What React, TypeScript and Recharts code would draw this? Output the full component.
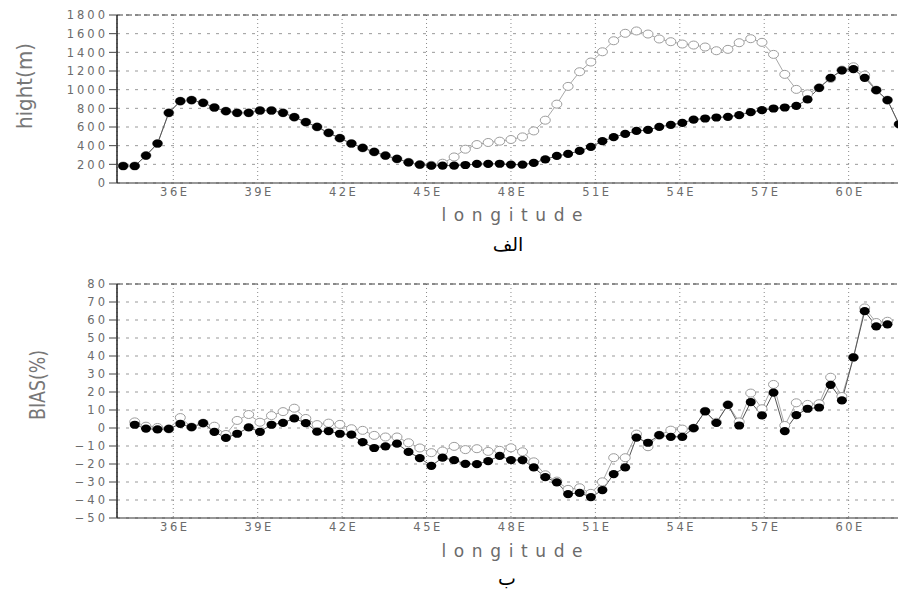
// Two-panel profile chart: terrain height and BIAS along longitude
import { LineChart, Line, XAxis, YAxis, CartesianGrid, ReferenceLine } from 'recharts'

// ============================================
// Data
// ============================================

// longitude of each station along the section
const lon = [
  34.22, 34.63, 35.03, 35.44, 35.84, 36.25, 36.65, 37.06, 37.46, 37.87,
  38.27, 38.68, 39.08, 39.49, 39.9, 40.3, 40.71, 41.11, 41.52, 41.92,
  42.33, 42.73, 43.14, 43.54, 43.95, 44.36, 44.76, 45.17, 45.57, 45.98,
  46.38, 46.79, 47.19, 47.6, 48.0, 48.41, 48.81, 49.22, 49.63, 50.03,
  50.44, 50.84, 51.25, 51.65, 52.06, 52.46, 52.87, 53.27, 53.68, 54.09,
  54.49, 54.9, 55.3, 55.71, 56.11, 56.52, 56.92, 57.33, 57.73, 58.14,
  58.54, 58.95, 59.36, 59.76, 60.17, 60.57, 60.98, 61.38, 61.79,
]

// top panel: filled (black) and open (grey) circles
const heightFilled = [
  182, 182, 294, 423, 752, 877, 888, 859, 809, 770,
  752, 752, 777, 777, 752, 705, 652, 601, 537, 480,
  423, 376, 333, 294, 258, 222, 197, 187, 187, 187,
  193, 204, 204, 206, 197, 197, 215, 254, 290, 311,
  344, 386, 448, 491, 526, 558, 569, 601, 623, 644,
  680, 691, 702, 709, 727, 759, 780, 798, 809, 827,
  895, 1020, 1127, 1207, 1221, 1127, 995, 888, 630,
]
const heightOpen = [
  182, 182, 294, 423, 752, 877, 888, 859, 809, 770,
  752, 752, 777, 777, 752, 705, 652, 601, 537, 480,
  423, 376, 333, 294, 258, 222, 197, 190, 212, 279,
  362, 412, 434, 448, 466, 494, 558, 673, 845, 1035,
  1192, 1296, 1406, 1524, 1604, 1629, 1596, 1543, 1514, 1489,
  1478, 1457, 1417, 1432, 1503, 1546, 1507, 1378, 1164, 1003,
  955, 1020, 1120, 1210, 1245, 1156, 995, 888, 630,
]

// bottom panel starts at the second station and stops one before the last
const biasFilled = [
  1.8, -0.3, -0.8, -0.5, 2.3, 0.5, 2.7, -2.1, -5.5, -3.2,
  0.3, -2.1, 1.8, 2.9, 5.3, 2.7, -2.0, -1.7, -3.2, -3.7,
  -7.9, -11.1, -10.2, -8.7, -13.3, -16.7, -21.0, -16.5, -17.9, -19.9,
  -20.1, -18.4, -15.5, -17.8, -17.8, -21.9, -27.3, -30.2, -36.7, -36.0,
  -38.4, -34.5, -25.6, -21.9, -5.3, -8.2, -4.0, -4.9, -4.9, -0.1,
  9.3, 2.8, 12.9, 1.4, 14.4, 7.0, 19.6, -1.7, 7.2, 10.7,
  11.4, 24.0, 15.3, 39.2, 64.9, 56.5, 57.6,
]
const biasOpen = [
  3.4, 1.0, 0.3, -0.5, 5.8, 0.5, 2.7, 1.0, -3.6, 4.2,
  7.5, 3.2, 6.9, 9.1, 11.0, 5.3, 1.9, 2.7, 2.0, -0.4,
  -1.3, -4.1, -5.0, -5.0, -8.2, -11.1, -13.7, -12.8, -10.2, -12.0,
  -11.5, -13.0, -12.4, -11.0, -13.2, -18.8, -26.0, -29.5, -34.1, -33.2,
  -36.3, -29.9, -16.5, -16.5, -3.4, -10.4, -4.0, -1.2, -0.6, -0.1,
  9.3, 3.2, 12.9, 3.4, 19.4, 10.7, 24.2, 1.4, 14.0, 13.1,
  13.5, 28.2, 17.5, 39.2, 66.7, 58.6, 59.3,
]

const lonTicks = [36, 39, 42, 45, 48, 51, 54, 57, 60]
const heightTicks = [0, 200, 400, 600, 800, 1000, 1200, 1400, 1600, 1800]
const biasTicks = [-50, -40, -30, -20, -10, 0, 10, 20, 30, 40, 50, 60, 70, 80]

const heightData = lon.map((x, i) => ({ lon: x, filled: heightFilled[i], open: heightOpen[i] }))
const biasData = biasFilled.map((v, i) => ({ lon: lon[i + 1], filled: v, open: biasOpen[i] }))

// ============================================
// Small render helpers
// ============================================

const TICK_COLOR = '#6b6b6b'

function YTick({ x, y, payload }: any) {
  const v = payload.value as number
  const label = v < 0 ? `\u2212${-v}` : `${v}`
  return (
    <text x={x + 3} y={y} dy={4.2} textAnchor="end" fill={TICK_COLOR} fontSize={11.5}
      fontFamily="DejaVu Sans" style={{ letterSpacing: '3px' }}>
      {label}
    </text>
  )
}

function XTick({ x, y, payload }: any) {
  return (
    <text x={x + 1.5} y={y} dy={9} textAnchor="middle" fill={TICK_COLOR} fontSize={11.5}
      fontFamily="DejaVu Sans" style={{ letterSpacing: '2.5px' }}>
      {`${payload.value}E`}
    </text>
  )
}

function filledDot(props: any) {
  const { cx, cy, index } = props
  if (cx == null || cy == null) return <g key={`f-${index}`} />
  return <ellipse key={`f-${index}`} cx={cx} cy={cy} rx={5} ry={4.1} fill="#000" />
}

function openDot(props: any) {
  const { cx, cy, index } = props
  if (cx == null || cy == null) return <g key={`o-${index}`} />
  return <ellipse key={`o-${index}`} cx={cx} cy={cy} rx={5} ry={4} fill="#fff" stroke="#9c9c9c" strokeWidth={1} />
}

function xTitle(baseline: number) {
  return () => (
    <text x={512} y={baseline} textAnchor="middle" fill={TICK_COLOR} fontSize={17}
      fontFamily="DejaVu Sans" textLength={141} lengthAdjust="spacing">
      longitude
    </text>
  )
}

function yTitle(text: string, cx: number, cy: number, len: number) {
  return () => (
    <text x={cx} y={cy} transform={`rotate(-90 ${cx} ${cy})`} textAnchor="middle" dy={7}
      fill="#777" fontSize={22} fontFamily="'DejaVu Sans Condensed', 'DejaVu Sans'"
      textLength={len} lengthAdjust="spacingAndGlyphs">
      {text}
    </text>
  )
}

// ============================================
// Panel
// ============================================

interface PanelProps {
  data: { lon: number; filled: number; open: number }[]
  top: number
  height: number
  marginBottom: number
  domain: [number, number]
  ticks: number[]
  title: string
  titleX: number
  titleY: number
  titleLen: number
  xTitleY: number
}

function Panel({ data, top, height, marginBottom, domain, ticks, title, titleX, titleY, titleLen, xTitleY }: PanelProps) {
  return (
    <div style={{ position: 'absolute', left: 0, top }}>
      <LineChart width={925} height={height} data={data}
        margin={{ top: 15, right: 6, bottom: marginBottom, left: 0 }}>
        <CartesianGrid vertical={false} stroke="#999" strokeDasharray="3 6" />
        <CartesianGrid horizontal={false} stroke="#8a8a8a" strokeDasharray="1 3" />
        <XAxis dataKey="lon" type="number" domain={[34, 62.5]} ticks={lonTicks} allowDataOverflow
          height={17} tickLine={false} tickSize={0} tickMargin={4} tick={<XTick />}
          axisLine={{ stroke: '#333', strokeWidth: 1.2 }}
          label={{ content: xTitle(xTitleY) }} />
        <YAxis type="number" domain={domain} ticks={ticks} interval={0} width={117}
          tickSize={8} tickMargin={4} tick={<YTick />}
          tickLine={{ stroke: '#444' }} axisLine={{ stroke: '#222', strokeWidth: 1.5 }}
          label={{ content: yTitle(title, titleX, titleY, titleLen) }} />
        <ReferenceLine y={domain[1]} stroke="#444" strokeDasharray="6 3" />
        <Line dataKey="open" stroke="#a8a8a8" strokeWidth={1} dot={openDot} isAnimationActive={false} />
        <Line dataKey="filled" stroke="#555" strokeWidth={1} dot={filledDot} isAnimationActive={false} />
      </LineChart>
    </div>
  )
}

// ============================================
// App
// ============================================

export default function App() {
  return (
    <div style={{ position: 'absolute', left: 0, top: 0, width: 898, height: 598, overflow: 'hidden', background: '#fff' }}>
      <Panel data={heightData} top={0} height={260} marginBottom={60} domain={[0, 1800]}
        ticks={heightTicks} title="hight(m)" titleX={25} titleY={86} titleLen={86} xTitleY={221} />
      <Panel data={biasData} top={269} height={329} marginBottom={63} domain={[-50, 80]}
        ticks={biasTicks} title="BIAS(%)" titleX={38} titleY={116} titleLen={70} xTitleY={288} />
      <svg width={898} height={598} style={{ position: 'absolute', left: 0, top: 0, pointerEvents: 'none' }}>
        <text x={508} y={251} textAnchor="middle" fontSize={19} fontFamily="DejaVu Sans" fill="#000">الف</text>
        <text x={507} y={585} textAnchor="middle" fontSize={19} fontFamily="DejaVu Sans" fill="#000">ب</text>
      </svg>
    </div>
  )
}
